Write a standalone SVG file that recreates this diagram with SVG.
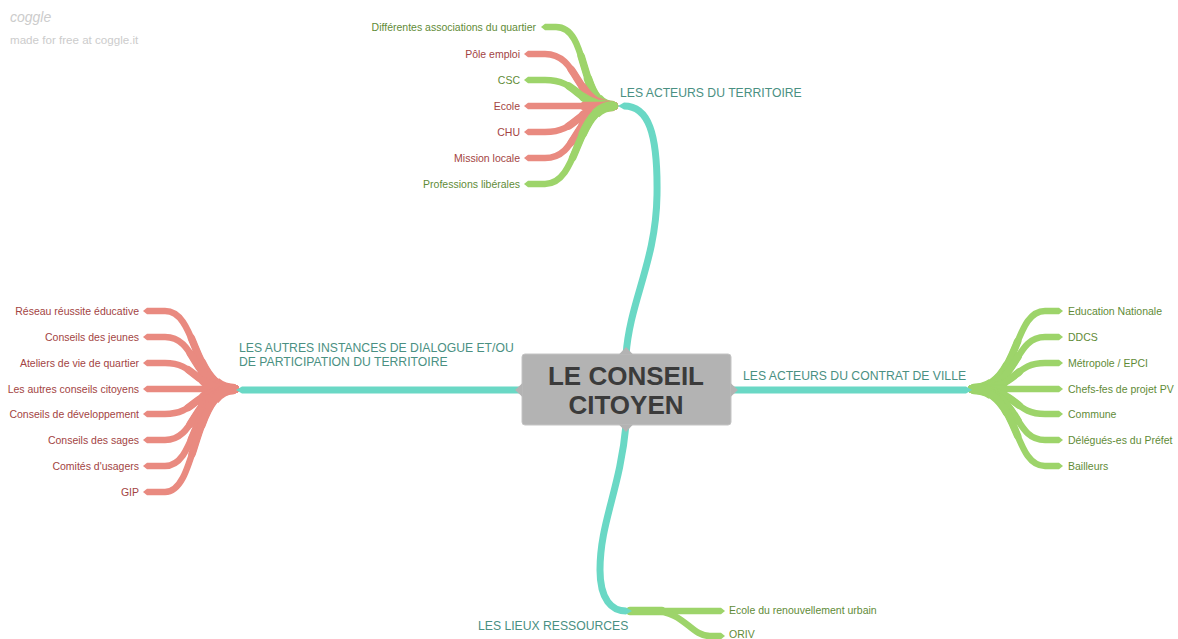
<svg xmlns="http://www.w3.org/2000/svg" width="1178" height="639" viewBox="0 0 1178 639">
  <style>
    .bg { fill: #ffffff; }
    .main { fill: none; stroke: #6ad8c5; stroke-width: 7; stroke-linecap: butt; }
    .red { fill: none; stroke: #e98a80; stroke-width: 6.5; stroke-linecap: butt; }
    .green { fill: none; stroke: #9dd46a; stroke-width: 6.5; stroke-linecap: butt; }
    .root1 { stroke-width: 7.5; stroke-dasharray: 55 200; stroke-linecap: round; }
    .root2 { stroke-width: 8.6; stroke-dasharray: 35 200; stroke-linecap: round; }
    .root3 { stroke-width: 10; stroke-dasharray: 16 200; }
    .lbl { font-family: "Liberation Sans", Arial, sans-serif; font-size: 12.2px; fill: #4a9082; }
    .leaf { font-family: "Liberation Sans", Arial, sans-serif; font-size: 10.5px; }
    .tr { fill: #a34443; }
    .tg { fill: #5f8b37; }
    .end { text-anchor: end; }
    .core { fill: #b3b3b3; stroke: #c4c4c4; stroke-width: 1; }
    .coretxt { font-family: "Liberation Sans", Arial, sans-serif; font-size: 26px; font-weight: bold; fill: #3b3b3b; text-anchor: middle; }
    .wm { font-family: "Liberation Sans", Arial, sans-serif; fill: #cccccc; }
  </style>
  <defs>
    <marker id="tipTeal" markerUnits="userSpaceOnUse" markerWidth="10" markerHeight="10" refX="0" refY="0" orient="auto" viewBox="-1 -5 8 10" overflow="visible">
      <path d="M0,-3.5 L6,0 L0,3.5 z" fill="#6ad8c5"/>
    </marker>
    <marker id="tipRed" markerUnits="userSpaceOnUse" markerWidth="10" markerHeight="10" refX="0" refY="0" orient="auto" viewBox="-1 -5 8 10" overflow="visible">
      <path d="M0,-3.25 L4,0 L0,3.25 z" fill="#e98a80"/>
    </marker>
    <marker id="tipGreen" markerUnits="userSpaceOnUse" markerWidth="10" markerHeight="10" refX="0" refY="0" orient="auto" viewBox="-1 -5 8 10" overflow="visible">
      <path d="M0,-3.25 L4,0 L0,3.25 z" fill="#9dd46a"/>
    </marker>

    <!-- branch geometry, root to leaf; pathLength lets the root thickening be a dash -->
    <path id="t1" pathLength="100" d="M614,106 C 578,106 590,27 556,27 H 545"/>
    <path id="t2" pathLength="100" d="M614,106 C 575,106 580,54 545,54 H 528"/>
    <path id="t3" pathLength="100" d="M614,106 C 575,106 580,80 545,80 H 528"/>
    <path id="t4" pathLength="100" d="M614,106 H 528"/>
    <path id="t5" pathLength="100" d="M614,106 C 575,106 580,132 545,132 H 528"/>
    <path id="t6" pathLength="100" d="M614,106 C 575,106 580,158 545,158 H 528"/>
    <path id="t7" pathLength="100" d="M614,106 C 575,106 580,184 545,184 H 528"/>

    <path id="i1" pathLength="100" d="M235,389 C 192,389 198,311 165,311 H 147"/>
    <path id="i2" pathLength="100" d="M235,389 C 192,389 198,337 165,337 H 147"/>
    <path id="i3" pathLength="100" d="M235,389 C 192,389 198,363 165,363 H 147"/>
    <path id="i4" pathLength="100" d="M235,389 H 147"/>
    <path id="i5" pathLength="100" d="M235,389 C 192,389 198,414 165,414 H 147"/>
    <path id="i6" pathLength="100" d="M235,389 C 192,389 198,440 165,440 H 147"/>
    <path id="i7" pathLength="100" d="M235,389 C 192,389 198,466 165,466 H 147"/>
    <path id="i8" pathLength="100" d="M235,389 C 192,389 198,492 165,492 H 147"/>

    <path id="c1" pathLength="100" d="M972,389 C 1020,389 1012,311 1045,311 H 1059"/>
    <path id="c2" pathLength="100" d="M972,389 C 1020,389 1012,337 1045,337 H 1059"/>
    <path id="c3" pathLength="100" d="M972,389 C 1020,389 1012,363 1045,363 H 1059"/>
    <path id="c4" pathLength="100" d="M972,389 H 1059"/>
    <path id="c5" pathLength="100" d="M972,389 C 1020,389 1012,414 1045,414 H 1059"/>
    <path id="c6" pathLength="100" d="M972,389 C 1020,389 1012,440 1045,440 H 1059"/>
    <path id="c7" pathLength="100" d="M972,389 C 1020,389 1012,466 1045,466 H 1059"/>

    <path id="r1" pathLength="100" d="M630,611 H 721"/>
    <path id="r2" pathLength="100" d="M652,611 C 685,611 690,636 710,636 H 721"/>
  </defs>

  <rect class="bg" x="0" y="0" width="1178" height="639"/>

  <!-- watermark -->
  <text class="wm" x="10" y="22" font-size="14" font-style="italic">coggle</text>
  <text class="wm" x="10" y="44" font-size="11.6">made for free at coggle.it</text>

  <!-- connectors -->
  <g id="connectors">
    <!-- fan: acteurs du territoire -->
    <g id="fan-territoire">
      <use href="#t1" class="green root1"/><use href="#t1" class="green root2"/><use href="#t1" class="green root3"/><use href="#t1" class="green" marker-end="url(#tipGreen)"/>
      <use href="#t2" class="red root1"/><use href="#t2" class="red root2"/><use href="#t2" class="red root3"/><use href="#t2" class="red" marker-end="url(#tipRed)"/>
      <use href="#t3" class="green root1"/><use href="#t3" class="green root2"/><use href="#t3" class="green root3"/><use href="#t3" class="green" marker-end="url(#tipGreen)"/>
      <use href="#t4" class="red root2"/><use href="#t4" class="red" marker-end="url(#tipRed)"/>
      <use href="#t5" class="red root1"/><use href="#t5" class="red root2"/><use href="#t5" class="red root3"/><use href="#t5" class="red" marker-end="url(#tipRed)"/>
      <use href="#t6" class="red root1"/><use href="#t6" class="red root2"/><use href="#t6" class="red root3"/><use href="#t6" class="red" marker-end="url(#tipRed)"/>
      <use href="#t7" class="green root1"/><use href="#t7" class="green root2"/><use href="#t7" class="green root3"/><use href="#t7" class="green" marker-end="url(#tipGreen)"/>
    </g>
    <!-- fan: autres instances -->
    <g id="fan-instances">
      <use href="#i1" class="red root1"/><use href="#i1" class="red root2"/><use href="#i1" class="red root3"/><use href="#i1" class="red" marker-end="url(#tipRed)"/>
      <use href="#i2" class="red root1"/><use href="#i2" class="red root2"/><use href="#i2" class="red root3"/><use href="#i2" class="red" marker-end="url(#tipRed)"/>
      <use href="#i3" class="red root1"/><use href="#i3" class="red root2"/><use href="#i3" class="red root3"/><use href="#i3" class="red" marker-end="url(#tipRed)"/>
      <use href="#i4" class="red root2"/><use href="#i4" class="red" marker-end="url(#tipRed)"/>
      <use href="#i5" class="red root1"/><use href="#i5" class="red root2"/><use href="#i5" class="red root3"/><use href="#i5" class="red" marker-end="url(#tipRed)"/>
      <use href="#i6" class="red root1"/><use href="#i6" class="red root2"/><use href="#i6" class="red root3"/><use href="#i6" class="red" marker-end="url(#tipRed)"/>
      <use href="#i7" class="red root1"/><use href="#i7" class="red root2"/><use href="#i7" class="red root3"/><use href="#i7" class="red" marker-end="url(#tipRed)"/>
      <use href="#i8" class="red root1"/><use href="#i8" class="red root2"/><use href="#i8" class="red root3"/><use href="#i8" class="red" marker-end="url(#tipRed)"/>
    </g>
    <!-- fan: contrat de ville -->
    <g id="fan-contrat">
      <use href="#c1" class="green root1"/><use href="#c1" class="green root2"/><use href="#c1" class="green root3"/><use href="#c1" class="green" marker-end="url(#tipGreen)"/>
      <use href="#c2" class="green root1"/><use href="#c2" class="green root2"/><use href="#c2" class="green root3"/><use href="#c2" class="green" marker-end="url(#tipGreen)"/>
      <use href="#c3" class="green root1"/><use href="#c3" class="green root2"/><use href="#c3" class="green root3"/><use href="#c3" class="green" marker-end="url(#tipGreen)"/>
      <use href="#c4" class="green root2"/><use href="#c4" class="green" marker-end="url(#tipGreen)"/>
      <use href="#c5" class="green root1"/><use href="#c5" class="green root2"/><use href="#c5" class="green root3"/><use href="#c5" class="green" marker-end="url(#tipGreen)"/>
      <use href="#c6" class="green root1"/><use href="#c6" class="green root2"/><use href="#c6" class="green root3"/><use href="#c6" class="green" marker-end="url(#tipGreen)"/>
      <use href="#c7" class="green root1"/><use href="#c7" class="green root2"/><use href="#c7" class="green root3"/><use href="#c7" class="green" marker-end="url(#tipGreen)"/>
    </g>
    <!-- fan: lieux ressources -->
    <g id="fan-lieux">
      <use href="#r1" class="green root2"/><use href="#r1" class="green" marker-end="url(#tipGreen)"/>
      <use href="#r2" class="green" marker-end="url(#tipGreen)"/>
    </g>
    <!-- main branches from the centre -->
    <path class="main" d="M626,355 C 630,300 656,262 657,195 C 658,132 648,106 624,106" marker-end="url(#tipTeal)"/>
    <path class="main" d="M522,390 H 242" marker-end="url(#tipTeal)"/>
    <path class="main" d="M731,390 H 966" marker-end="url(#tipTeal)"/>
    <path class="main" d="M626,425 C 620,490 600,522 600,570 C 600,600 612,611 626,611" marker-end="url(#tipTeal)"/>
  </g>

  <!-- branch titles -->
  <g id="n-territoire"><text class="lbl" x="620" y="97">LES ACTEURS DU TERRITOIRE</text></g>
  <g id="n-instances">
    <text class="lbl" x="239" y="352">LES AUTRES INSTANCES DE DIALOGUE ET/OU</text>
    <text class="lbl" x="239" y="366">DE PARTICIPATION DU TERRITOIRE</text>
  </g>
  <g id="n-contrat"><text class="lbl" x="743" y="380">LES ACTEURS DU CONTRAT DE VILLE</text></g>
  <g id="n-lieux"><text class="lbl" x="478" y="630">LES LIEUX RESSOURCES</text></g>

  <!-- leaves: acteurs du territoire -->
  <g id="l-associations"><text class="leaf tg end" x="536" y="31">Différentes associations du quartier</text></g>
  <g id="l-pole-emploi"><text class="leaf tr end" x="520" y="58">Pôle emploi</text></g>
  <g id="l-csc"><text class="leaf tg end" x="520" y="84">CSC</text></g>
  <g id="l-ecole"><text class="leaf tr end" x="520" y="110">Ecole</text></g>
  <g id="l-chu"><text class="leaf tr end" x="520" y="136">CHU</text></g>
  <g id="l-mission"><text class="leaf tr end" x="520" y="162">Mission locale</text></g>
  <g id="l-professions"><text class="leaf tg end" x="520" y="188">Professions libérales</text></g>

  <!-- leaves: autres instances -->
  <g id="l-reseau"><text class="leaf tr end" x="139" y="315">Réseau réussite éducative</text></g>
  <g id="l-jeunes"><text class="leaf tr end" x="139" y="341">Conseils des jeunes</text></g>
  <g id="l-ateliers"><text class="leaf tr end" x="139" y="367">Ateliers de vie de quartier</text></g>
  <g id="l-autres"><text class="leaf tr end" x="139" y="393">Les autres conseils citoyens</text></g>
  <g id="l-developpement"><text class="leaf tr end" x="139" y="418">Conseils de développement</text></g>
  <g id="l-sages"><text class="leaf tr end" x="139" y="444">Conseils des sages</text></g>
  <g id="l-usagers"><text class="leaf tr end" x="139" y="470">Comités d'usagers</text></g>
  <g id="l-gip"><text class="leaf tr end" x="139" y="496">GIP</text></g>

  <!-- leaves: contrat de ville -->
  <g id="l-education"><text class="leaf tg" x="1068" y="315">Education Nationale</text></g>
  <g id="l-ddcs"><text class="leaf tg" x="1068" y="341">DDCS</text></g>
  <g id="l-metropole"><text class="leaf tg" x="1068" y="367">Métropole / EPCI</text></g>
  <g id="l-chefs"><text class="leaf tg" x="1068" y="393">Chefs-fes de projet PV</text></g>
  <g id="l-commune"><text class="leaf tg" x="1068" y="418">Commune</text></g>
  <g id="l-delegues"><text class="leaf tg" x="1068" y="444">Délégués-es du Préfet</text></g>
  <g id="l-bailleurs"><text class="leaf tg" x="1068" y="470">Bailleurs</text></g>

  <!-- leaves: lieux ressources -->
  <g id="l-ecole-renouvellement"><text class="leaf tg" x="729" y="614">Ecole du renouvellement urbain</text></g>
  <g id="l-oriv"><text class="leaf tg" x="729" y="638">ORIV</text></g>

  <!-- central node -->
  <g id="n-centre">
    <rect class="core" x="522" y="354" width="209" height="71" rx="3"/>
    <path d="M619,354.5 L626,347 L633,354.5 z" fill="#b3b3b3"/>
    <path d="M619,424.5 L626,432 L633,424.5 z" fill="#b3b3b3"/>
    <path d="M522.5,383 L515,390 L522.5,397 z" fill="#b3b3b3"/>
    <path d="M730.5,383 L738,390 L730.5,397 z" fill="#b3b3b3"/>
    <text class="coretxt" x="626" y="385">LE CONSEIL</text>
    <text class="coretxt" x="626" y="414">CITOYEN</text>
  </g>
</svg>
